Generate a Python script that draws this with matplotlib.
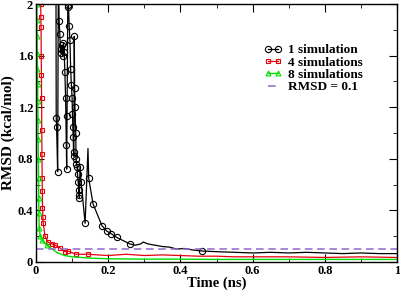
import matplotlib
matplotlib.use("Agg")
import matplotlib.pyplot as plt
from matplotlib.ticker import MultipleLocator, FormatStrFormatter

plt.rcParams['font.family'] = ['Liberation Serif', 'DejaVu Serif']
plt.rcParams['font.weight'] = 'bold'

# 1 simulation
t1 = [0.055, 0.056, 0.057, 0.060, 0.062, 0.064, 0.066, 0.068, 0.070, 0.072,
      0.074, 0.076, 0.078, 0.080, 0.082, 0.084, 0.085, 0.086, 0.088, 0.090,
      0.092, 0.094, 0.096, 0.098, 0.100, 0.101, 0.102, 0.103, 0.104, 0.105,
      0.106, 0.107, 0.108, 0.110, 0.111, 0.112, 0.114, 0.115, 0.117, 0.118,
      0.119, 0.120, 0.122, 0.125, 0.136, 0.144, 0.146, 0.158, 0.183, 0.196,
      0.208, 0.224, 0.260, 0.275, 0.290, 0.297, 0.310, 0.330, 0.350, 0.370,
      0.390, 0.410, 0.430, 0.460, 0.500, 0.550, 0.600, 0.650, 0.700, 0.750,
      0.800, 0.850, 0.900, 0.950, 1.000]
r1 = [2.60, 1.12, 1.05, 0.70, 2.30, 1.87, 1.77, 1.62, 1.65, 1.68,
      1.60, 1.70, 1.63, 1.47, 1.27, 0.91, 0.72, 1.13, 1.98, 1.99,
      1.83, 1.72, 1.50, 1.37, 1.27, 1.15, 1.05, 0.97, 0.85, 0.82,
      1.75, 1.35, 1.20, 1.00, 0.80, 0.76, 0.74, 0.68, 0.62, 0.56,
      0.52, 0.50, 0.74, 0.62, 0.30, 0.88, 0.65, 0.45, 0.28, 0.24,
      0.22, 0.19, 0.14, 0.13, 0.14, 0.155, 0.14, 0.13, 0.12, 0.115,
      0.10, 0.105, 0.095, 0.085, 0.08, 0.075, 0.07, 0.075, 0.07, 0.075,
      0.07, 0.065, 0.07, 0.065, 0.065]
mk1 = [i for i in range(1, 53) if i not in (4, 45)] + [63]

# 4 simulations
t4 = [0.012, 0.013, 0.0135, 0.014, 0.0145, 0.015, 0.0155, 0.016, 0.0165,
      0.017, 0.0175, 0.018, 0.019, 0.020, 0.025, 0.033, 0.044, 0.053,
      0.066, 0.080, 0.089, 0.110, 0.145, 0.170, 0.200, 0.250, 0.300,
      0.350, 0.400, 0.450, 0.500, 0.550, 0.600, 0.700, 0.800, 0.900, 1.000]
r4 = [2.30, 2.00, 1.90, 1.82, 1.60, 1.45, 1.27, 1.02, 0.84, 0.65,
      0.55, 0.42, 0.35, 0.30, 0.20, 0.155, 0.14, 0.13, 0.11, 0.08,
      0.085, 0.06, 0.06, 0.055, 0.05, 0.06, 0.05, 0.055, 0.05, 0.045,
      0.045, 0.04, 0.04, 0.04, 0.035, 0.04, 0.035]
mk4 = list(range(1, 23))

# 8 simulations
t8 = [0.002, 0.0025, 0.003, 0.0035, 0.004, 0.0045, 0.005, 0.0055, 0.006,
      0.0065, 0.007, 0.0075, 0.008, 0.009, 0.012, 0.016, 0.030, 0.045,
      0.060, 0.080, 0.100, 0.150, 0.200, 0.300, 0.400, 0.500, 0.600,
      0.700, 0.800, 0.900, 1.000]
r8 = [2.00, 1.88, 1.75, 1.62, 1.50, 1.38, 1.25, 1.10, 0.95, 0.80,
      0.65, 0.50, 0.38, 0.26, 0.20, 0.17, 0.13, 0.10, 0.07, 0.05,
      0.04, 0.03, 0.025, 0.022, 0.022, 0.02, 0.02, 0.02, 0.02, 0.02, 0.02]
mk8 = list(range(0, 17))

threshold = 0.1

fig = plt.figure(figsize=(4, 2.9), dpi=100)
ax = fig.add_axes([0.09, 0.0966, 0.9025, 0.8894])

ax.plot(t1, r1, color='black', lw=0.9, marker='o', ms=4.5, mfc='none',
        mec='black', mew=0.8, markevery=mk1, label='1 simulation')
ax.plot(t4, r4, color='#e8000b', lw=0.9, marker='s', ms=3.5, mfc='none',
        mec='#e8000b', mew=0.8, markevery=mk4, label='4 simulations')
ax.plot(t8, r8, color='#00dd00', lw=1.0, marker='^', ms=3.5, mfc='none',
        mec='#00dd00', mew=0.8, markevery=mk8, label='8 simulations')
ax.axhline(threshold, color='#9467cd', lw=1.1, ls=(0, (5, 3)), label='RMSD = 0.1')

ax.set_xlim(0, 1)
ax.set_ylim(0, 2)
ax.xaxis.set_major_locator(MultipleLocator(0.2))
ax.xaxis.set_minor_locator(MultipleLocator(0.1))
ax.yaxis.set_major_locator(MultipleLocator(0.4))
ax.yaxis.set_minor_locator(MultipleLocator(0.2))
ax.xaxis.set_major_formatter(FormatStrFormatter('%g'))
ax.yaxis.set_major_formatter(FormatStrFormatter('%g'))
ax.tick_params(which='both', direction='in', top=True, right=True, labelsize=9, pad=2)
ax.tick_params(which='major', length=6)
ax.tick_params(which='minor', length=3)
for s in ax.spines.values():
    s.set_linewidth(1.0)

ax.set_xlabel('Time (ns)', fontsize=10.5, fontweight='bold', labelpad=0)
ax.set_ylabel('RMSD (kcal/mol)', fontsize=11, fontweight='bold', labelpad=2)

ax.legend(loc='upper right', bbox_to_anchor=(0.93, 0.88), frameon=False,
          numpoints=2, fontsize=9.5, handlelength=1.4, handletextpad=0.4,
          labelspacing=0.0, borderpad=0.2)

fig.savefig('out.png', dpi=100)
